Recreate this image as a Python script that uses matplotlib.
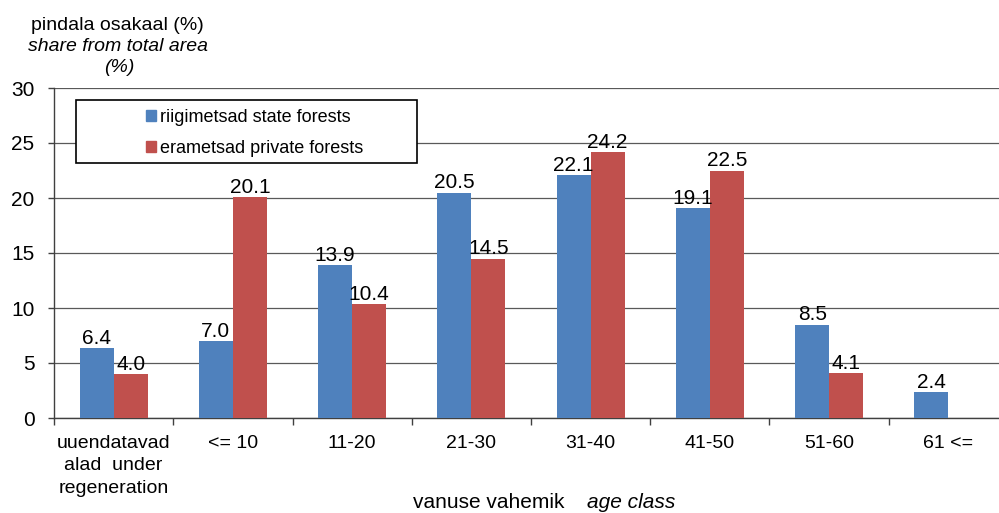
import numpy as np
import matplotlib
matplotlib.use("Agg")
import matplotlib.pyplot as plt
from matplotlib.patches import Rectangle, Patch

plt.rcParams['font.family'] = ['Liberation Sans', 'DejaVu Sans']

categories = ["uuendatavad\nalad  under\nregeneration", "<= 10", "11-20", "21-30",
              "31-40", "41-50", "51-60", "61 <="]
state = [6.4, 7.0, 13.9, 20.5, 22.1, 19.1, 8.5, 2.4]
private = [4.0, 20.1, 10.4, 14.5, 24.2, 22.5, 4.1, np.nan]
series_names = ["riigimetsad state forests", "erametsad private forests"]
colors = ["#4F81BD", "#C0504D"]

W, H = 999, 513
fig = plt.figure(figsize=(W / 100, H / 100), dpi=100)
# axis runs past the right edge of the picture, as in the original
ax = fig.add_axes([54 / W, (H - 418) / H, 954 / W, 330 / H])

x = np.arange(len(categories)) + 0.5
bw = 0.285
b1 = ax.bar(x - bw / 2, state, width=bw, color=colors[0], zorder=3)
b2 = ax.bar(x + bw / 2, private, width=bw, color=colors[1], zorder=3)

for bars, vals in ((b1, state), (b2, private)):
    for r, v in zip(bars, vals):
        if np.isnan(v):
            continue
        ax.annotate(f"{v:.1f}", (r.get_x() + r.get_width() / 2, v),
                    xytext=(0, 0), textcoords="offset points",
                    ha="center", va="bottom", fontsize=15, zorder=4)

ax.set_xlim(0, 8)
ax.set_ylim(0, 30)
ax.set_yticks(range(0, 31, 5))
ax.tick_params(axis="y", labelsize=15, length=4, width=1, pad=10, color="#404040")

ax.set_xticks(range(0, 9))
ax.set_xticklabels([])
ax.set_xticks(x, minor=True)
ax.set_xticklabels(categories, minor=True, fontsize=14, linespacing=1.42)
ax.tick_params(axis="x", which="major", length=5, width=1, direction="out", color="#404040")
ax.tick_params(axis="x", which="minor", length=0, pad=12)
for t in ax.get_xticklabels(minor=True):
    t.set_verticalalignment("top")

ax.grid(axis="y", color="#595959", linewidth=0.9, zorder=0)
ax.set_axisbelow(True)
for s in ("top", "right"):
    ax.spines[s].set_visible(False)
ax.spines["left"].set_color("#404040")
ax.spines["bottom"].set_color("#404040")
ax.spines["left"].set_linewidth(1)
ax.spines["bottom"].set_linewidth(1)

# legend frame
x0 = (76 - 54) / 954
x1 = (417 - 54) / 954
y1 = (418 - 100) / 330
y0 = (418 - 163) / 330
ax.add_patch(Rectangle((x0, y0), x1 - x0, y1 - y0, transform=ax.transAxes,
                       facecolor="white", edgecolor="black", linewidth=1.2, zorder=5))
handles = [Patch(color=c) for c in colors]
leg = ax.legend(handles, series_names, loc="center left",
                bbox_to_anchor=((137 - 54) / 954, (418 - 133) / 330),
                frameon=False, fontsize=13, handlelength=0.55, handleheight=0.55,
                handletextpad=0.2, labelspacing=0.8, borderpad=0)
leg.set_zorder(6)

# y axis title
fig.text(117 / W, 1 - 25 / H, "pindala osakaal (%)", ha="center", va="center", fontsize=14)
fig.text(118 / W, 1 - 47 / H, "share from total area", ha="center", va="center",
         fontsize=14, style="italic")
fig.text(119 / W, 1 - 68 / H, "(%)", ha="center", va="center", fontsize=14, style="italic")

# x axis title
fig.text(413 / W, 1 - 508 / H, "vanuse vahemik", ha="left", va="baseline", fontsize=15)
fig.text(587 / W, 1 - 508 / H, "age class", ha="left", va="baseline", fontsize=15,
         style="italic")

fig.savefig("out.png", dpi=100)
